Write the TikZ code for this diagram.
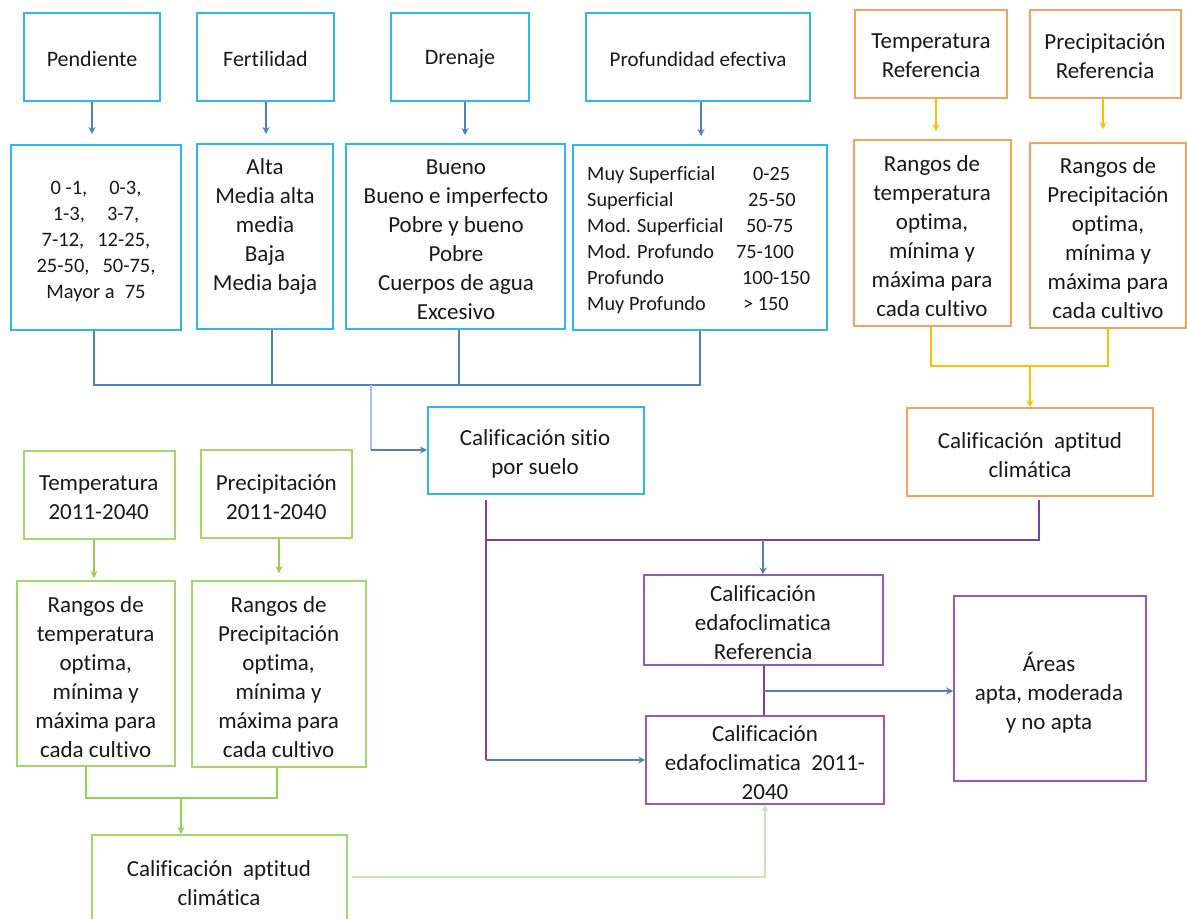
\documentclass[tikz,border=0pt]{standalone}
\usepackage{fontspec}
\setmainfont{Carlito}[Ligatures={NoCommon}]
\usetikzlibrary{arrows.meta,calc}
\definecolor{cbox}{RGB}{45,182,240}
\definecolor{obox}{RGB}{248,160,95}
\definecolor{gbox}{RGB}{160,216,105}
\definecolor{pbox}{RGB}{150,90,190}
\definecolor{bcol}{RGB}{79,129,189}
\definecolor{lbcol}{RGB}{160,197,232}
\definecolor{ycol}{RGB}{255,192,0}
\definecolor{gcol}{RGB}{146,208,80}
\definecolor{lgcol}{RGB}{200,228,180}
\definecolor{pcol}{RGB}{125,60,175}
\definecolor{tcol}{RGB}{25,25,25}
\begin{document}
\begin{tikzpicture}[x=1pt,y=-1pt,
  box/.style={draw, rectangle, inner sep=0pt, line width=1.6pt},
  bbox/.style={box, draw=cbox, line width=2pt},
  orbox/.style={box, draw=obox, line width=1.8pt},
  grbox/.style={box, draw=gbox, line width=1.8pt},
  pubox/.style={box, draw=pbox, line width=1.6pt},
  txt/.style={inner sep=0pt, align=center, text=tcol, font=\fontsize{23}{29}\selectfont},
  txts/.style={txt, font=\fontsize{22}{29}\selectfont},
  txtl/.style={txt, font=\fontsize{20.5}{26}\selectfont},
  conn/.style={line width=2pt},
  arr/.style={-{Stealth[length=7pt,width=7pt]}},
  bc/.style={conn, draw=bcol},
  lbc/.style={conn, draw=lbcol},
  yc/.style={conn, draw=ycol},
  gc/.style={conn, draw=gcol},
  lgc/.style={conn, draw=lgcol},
  pc/.style={conn, draw=pcol}
]
\useasboundingbox (0,0) rectangle (1187,919);
\fill[white] (0,0) rectangle (1187,919);
\clip (0,0) rectangle (1187,919);

% ---------- blue boxes (top) ----------
\node[bbox, minimum width=136pt, minimum height=88pt] (pend) at (92,57) {};
\node[bbox, minimum width=137pt, minimum height=88pt] (fert) at (265.5,57) {};
\node[bbox, minimum width=138pt, minimum height=88pt] (dren) at (460,57) {};
\node[bbox, minimum width=224pt, minimum height=88pt] (prof) at (698,57) {};
\node[txts] (pendT) at (92,59) {Pendiente};
\node[txts] (fertT) at (265.5,59) {Fertilidad};
\node[txts] (drenT) at (460,59) {Drenaje};
\node[txts, font=\fontsize{21}{29}\selectfont] (profT) at (698,59) {Profundidad efectiva};

\node[bbox, minimum width=170pt, minimum height=185pt] (pendC) at (96,237.5) {};
\node[bbox, minimum width=136pt, minimum height=185pt] (fertC) at (265,236.5) {};
\node[bbox, minimum width=219pt, minimum height=185pt] (drenC) at (455.5,236.5) {};
\node[bbox, minimum width=254pt, minimum height=185pt] (profC) at (700,237.5) {};

\node[txtl] (pendCT) at (96,241) {0 -1,\hspace{22pt}0-3,\\1-3,\hspace{22pt}3-7,\\7-12,\hspace{13pt}12-25,\\25-50,\hspace{13pt}50-75,\\Mayor a\hspace{10pt}75};
\node[txt] (fertCT) at (265,226) {Alta\\Media alta\\media\\Baja\\Media baja};
\node[txt] (drenCT) at (456,239.5) {Bueno\\Bueno e imperfecto\\Pobre y bueno\\Pobre\\Cuerpos de agua\\Excesivo};
\node[txtl, font=\fontsize{20.3}{26}\selectfont, align=left, anchor=west] (profCT) at (587,240) {%
\makebox[166pt][l]{Muy Superficial}0-25\\
\makebox[161pt][l]{Superficial}25-50\\
\makebox[159pt][l]{Mod. Superficial}50-75\\
\makebox[149pt][l]{Mod. Profundo}75-100\\
\makebox[155pt][l]{Profundo}100-150\\
\makebox[156pt][l]{Muy Profundo}> 150};

% ---------- orange boxes ----------
\node[orbox, minimum width=152pt, minimum height=88pt] (tempR) at (931,54) {};
\node[orbox, minimum width=151pt, minimum height=88pt] (precR) at (1105.5,54) {};
\node[txt] (tempRT) at (931,56) {Temperatura\\Referencia};
\node[txt] (precRT) at (1105,56) {Precipitación\\Referencia};
\node[orbox, minimum width=157pt, minimum height=186pt] (rtR) at (932.5,233) {};
\node[orbox, minimum width=156pt, minimum height=185pt] (rpR) at (1108,235.5) {};
\node[txt] (rtRT) at (932,236) {Rangos de\\temperatura\\optima,\\mínima y\\máxima para\\cada cultivo};
\node[txt] (rpRT) at (1108,238) {Rangos de\\Precipitación\\optima,\\mínima y\\máxima para\\cada cultivo};
\node[orbox, minimum width=246pt, minimum height=88pt] (climR) at (1030,452) {};
\node[txt] (climRT) at (1030,455) {Calificación\ \ aptitud\\climática};

% ---------- sitio ----------
\node[bbox, minimum width=216pt, minimum height=87pt] (sitio) at (536,450) {};
\node[txt] (sitioT) at (535,454) {Calificación sitio\\por suelo};

% ---------- green boxes ----------
\node[grbox, minimum width=151pt, minimum height=88pt] (t2) at (99.5,495) {};
\node[grbox, minimum width=151pt, minimum height=88pt] (p2) at (276.5,494) {};
\node[txt] (t2T) at (98.7,498) {Temperatura\\2011-2040};
\node[txt] (p2T) at (276.3,497) {Precipitación\\2011-2040};
\node[grbox, minimum width=158pt, minimum height=185pt] (rt2) at (96,673.5) {};
\node[grbox, minimum width=174pt, minimum height=186pt] (rp2) at (279,674) {};
\node[txt] (rt2T) at (95.7,677) {Rangos de\\temperatura\\optima,\\mínima y\\máxima para\\cada cultivo};
\node[txt] (rp2T) at (278.6,677) {Rangos de\\Precipitación\\optima,\\mínima y\\máxima para\\cada cultivo};
\node[grbox, line width=2pt, minimum width=255pt, minimum height=110pt] (climG) at (219.5,890) {};
\node[txt] (climGT) at (219,883) {Calificación\ \ aptitud\\climática};

% ---------- purple boxes ----------
\node[pubox, minimum width=239pt, minimum height=89.5pt] (eRef) at (763.5,620) {};
\node[txt] (eRefT) at (763,623) {Calificación\\edafoclimatica\\Referencia};
\node[pubox, minimum width=238pt, minimum height=88pt] (e2040) at (765,760) {};
\node[txt] (e2040T) at (765,763) {Calificación\\edafoclimatica\ \ 2011-\\2040};
\node[pubox, minimum width=192pt, minimum height=185pt] (areas) at (1050,688.5) {};
\node[txt] (areasT) at (1049,693) {Áreas\\apta, moderada\\y no apta};

% ---------- blue connectors ----------
\draw[bc,arr,shorten >=10pt] (pend.south) -- (pend.south |- pendC.north);
\draw[bc,arr,shorten >=9pt] ([xshift=0.5pt]fert.south) -- ([xshift=0.5pt]fert.south |- fertC.north);
\draw[bc,arr,shorten >=8pt] ([xshift=5pt]dren.south) -- ([xshift=5pt]dren.south |- drenC.north);
\draw[bc,arr,shorten >=8pt] ([xshift=3pt]prof.south) -- ([xshift=3pt]prof.south |- profC.north);

\coordinate (busS) at (371,385);
\coordinate (busC) at (371,450);
\draw[bc] ([xshift=-2pt]pendC.south) |- (profC.south |- busS) -- (profC.south);
\draw[bc] ([xshift=7pt]fertC.south) -- ([xshift=7pt]fertC.south |- busS);
\draw[bc] ([xshift=3.5pt]drenC.south) -- ([xshift=3.5pt]drenC.south |- busS);
\draw[lbc] (busS) -- (busC);
\draw[bc,arr] (busC) -- (sitio.west);

% ---------- yellow connectors ----------
\coordinate (yJ) at (1030,366);
\draw[yc,arr,shorten >=8pt] ([xshift=5pt]tempR.south) -- ([xshift=5pt]tempR.south |- rtR.north);
\draw[yc,arr,shorten >=13pt] ([xshift=-2.5pt]precR.south) -- ([xshift=-2.5pt]precR.south |- rpR.north);
\draw[yc] ([xshift=-1.5pt]rtR.south) |- (rpR.south |- yJ) -- (rpR.south);
\draw[yc,arr] (yJ) -- (climR.north);

% ---------- purple connectors ----------
\coordinate (pTL) at (486,500);
\coordinate (pL) at (486,540);
\coordinate (pBL) at (486,760);
\coordinate (pR) at (1039,540);
\coordinate (pTR) at (1039,500);
\draw[pc] (pTL) -- (pBL);
\draw[pc] (pL) -- (pR) -- (pTR);
\draw[bc,arr] (pBL) -- (e2040.west);
\draw[bc,arr] ([xshift=-0.5pt]eRef.north |- pL) -- ([xshift=-0.5pt]eRef.north);
\draw[pc] ([xshift=0.5pt]eRef.south) -- ([xshift=0.5pt]eRef.south |- e2040.north);
\coordinate (aJ) at (764,691);
\draw[bc,arr] (aJ) -- (aJ -| areas.west);

% ---------- green connectors ----------
\draw[gc,arr,shorten >=2pt] ([xshift=-5.5pt]t2.south) -- ([xshift=-5.5pt]t2.south |- rt2.north);
\draw[gc,arr,shorten >=7pt] (rp2.north |- p2.south) -- (rp2.north);
\coordinate (gJ) at (181,798);
\draw[gc] ([xshift=-10pt]rt2.south) |- ([xshift=-2pt]rp2.south |- gJ) -- ([xshift=-2pt]rp2.south);
\draw[gc,line width=2.6pt,arr] (gJ) -- (gJ |- climG.north);
\coordinate (lgS) at (352,877);
\draw[lgc,arr] (lgS) -| (e2040.south);
\end{tikzpicture}
\end{document}
